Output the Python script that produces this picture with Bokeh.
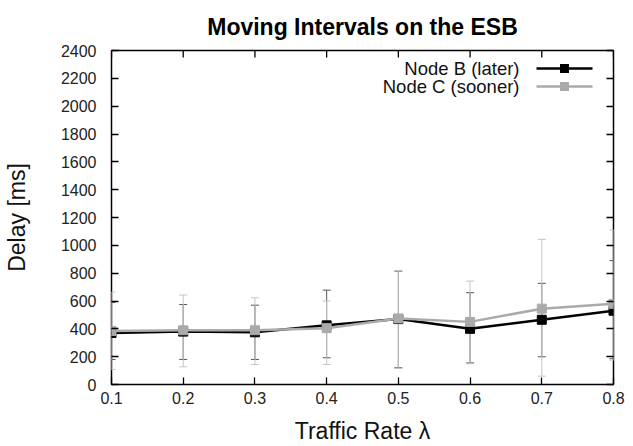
from bokeh.plotting import figure
from bokeh.models import (ColumnDataSource, Whisker, TeeHead, FixedTicker, LinearAxis,
                          Range1d, Label, BoxAnnotation)
from bokeh.embed import file_html
from bokeh.resources import INLINE

# ---- data ----
traffic_rate = [0.1, 0.2, 0.3, 0.4, 0.5, 0.6, 0.7, 0.8]
node_b_delay = [370, 380, 375, 425, 470, 400, 465, 530]
node_b_low = [180, 180, 180, 192, 120, 155, 199, 185]
node_b_high = [590, 575, 570, 678, 815, 660, 727, 890]
node_c_delay = [385, 390, 390, 405, 475, 450, 545, 580]
node_c_low = [108, 127, 144, 144, 115, 149, 60, 175]
node_c_high = [664, 643, 623, 600, 820, 743, 1043, 1110]
x_ticks = [0.1, 0.2, 0.3, 0.4, 0.5, 0.6, 0.7, 0.8]
y_ticks = [0, 200, 400, 600, 800, 1000, 1200, 1400, 1600, 1800, 2000, 2200, 2400]
series_names = ["Node B (later)", "Node C (sooner)"]

FONT = "Liberation Sans"
B_COLOR = "#000000"
C_COLOR = "#aaaaaa"
Y_MAX = 2400
FRAME_H = 335  # px, frame height (446 - 50 - 61)
TICK_PX = 7

p = figure(width=633, height=446, output_backend="svg", toolbar_location=None,
           x_range=Range1d(0.1, 0.8), y_range=Range1d(0, Y_MAX),
           min_border_left=111, min_border_right=20, min_border_top=50, min_border_bottom=61,
           title="Moving Intervals on the ESB")
p.background_fill_color = "white"
p.border_fill_color = "white"
p.outline_line_color = "black"
p.outline_line_width = 1.5
p.xgrid.visible = False
p.ygrid.visible = False

p.title.text_font = FONT
p.title.text_font_style = "bold"
p.title.text_font_size = "23px"
p.title.align = "center"
p.title.text_color = "black"
p.title.standoff = 18
p.title.vertical_align = "top"

def style_axis(ax, show_labels=True):
    ax.axis_line_color = None
    ax.major_tick_in = TICK_PX
    ax.major_tick_out = 0
    ax.major_tick_line_color = "black"
    ax.major_tick_line_width = 1.3
    ax.minor_tick_line_color = None
    ax.major_label_text_font = FONT
    ax.major_label_text_font_size = "16px"
    ax.major_label_text_color = "#222222"
    if not show_labels:
        ax.major_label_text_font_size = "0px"
        ax.major_label_text_color = None

xa = p.xaxis[0]
ya = p.yaxis[0]
xa.ticker = FixedTicker(ticks=x_ticks)
ya.ticker = FixedTicker(ticks=y_ticks)
style_axis(xa)
style_axis(ya)
xa.major_label_standoff = 7
ya.major_label_standoff = 15
xa.axis_label = "Traffic Rate \u03bb"
ya.axis_label = "Delay [ms]"
for ax in (xa, ya):
    ax.axis_label_text_font = FONT
    ax.axis_label_text_font_style = "normal"
    ax.axis_label_text_font_size = "23px"
    ax.axis_label_text_color = "#111111"
xa.axis_label_standoff = 11
ya.axis_label_standoff = 28

right = LinearAxis(ticker=FixedTicker(ticks=y_ticks))
style_axis(right, False)
right.major_label_standoff = 0
p.add_layout(right, "right")

# mirrored ticks along the top edge (gnuplot style)
tick_len = TICK_PX * Y_MAX / FRAME_H
p.segment(x0=x_ticks, y0=[Y_MAX] * len(x_ticks), x1=x_ticks,
          y1=[Y_MAX - tick_len] * len(x_ticks), line_color="black", line_width=1.3)

src_b = ColumnDataSource(dict(x=traffic_rate, y=node_b_delay, lo=node_b_low, hi=node_b_high))
src_c = ColumnDataSource(dict(x=traffic_rate, y=node_c_delay, lo=node_c_low, hi=node_c_high))

def add_series(src, color, wcolor):
    w = Whisker(source=src, base="x", upper="hi", lower="lo",
                line_color=wcolor, line_width=1,
                upper_head=TeeHead(size=8, line_color=wcolor, line_width=1),
                lower_head=TeeHead(size=8, line_color=wcolor, line_width=1))
    p.add_layout(w)
    p.line("x", "y", source=src, line_color=color, line_width=2.5)
    p.scatter("x", "y", source=src, marker="square", size=9, fill_color=color, line_color=color)

add_series(src_b, B_COLOR, "#555555")
add_series(src_c, C_COLOR, "#c4c4c4")

# ---- legend (gnuplot style: label left, sample right) ----
rows = [(series_names[0], B_COLOR, 316), (series_names[1], C_COLOR, 298)]
for name, color, yy in rows:
    p.add_layout(Label(x=408, y=yy, x_units="screen", y_units="screen", text=name,
                       text_align="right", text_baseline="middle", text_font=FONT,
                       text_font_size="18.5px", text_color="#111111"))
    p.add_layout(BoxAnnotation(left=425, right=481, bottom=yy - 1.2, top=yy + 1.2,
                               left_units="screen", right_units="screen",
                               bottom_units="screen", top_units="screen",
                               fill_color=color, fill_alpha=1, line_color=None))
    p.add_layout(BoxAnnotation(left=448.5, right=457.5, bottom=yy - 4.5, top=yy + 4.5,
                               left_units="screen", right_units="screen",
                               bottom_units="screen", top_units="screen",
                               fill_color=color, fill_alpha=1, line_color=None))

open("out.html", "w").write(file_html(p, INLINE))
